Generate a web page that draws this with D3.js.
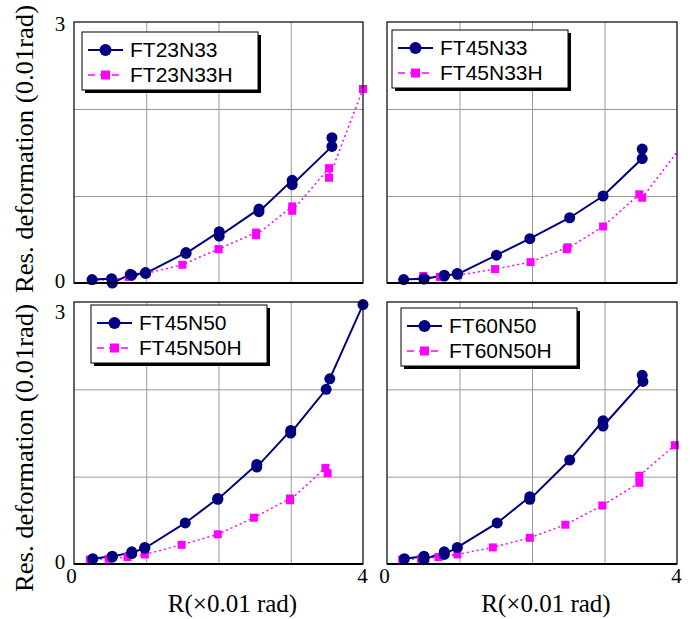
<!DOCTYPE html>
<html>
<head>
<meta charset="utf-8">
<script src="https://cdnjs.cloudflare.com/ajax/libs/d3/7.8.5/d3.min.js"></script>
<style>
  body { margin: 0; background: #fff; }
  svg { display: block; }
</style>
</head>
<body>
<svg width="690" height="619"></svg>
<script>

// ---- data (x = R, y = residual deformation) ----
let ft23n33  = [[0.25,0.04],[0.52,0.05],[0.53,0.0],[0.78,0.10],[0.80,0.09],[0.99,0.12],[0.99,0.11],[1.55,0.35],[1.55,0.34],
                [2.01,0.59],[2.01,0.54],[2.56,0.85],[2.56,0.82],[3.02,1.18],[3.02,1.13],[3.57,1.57],[3.57,1.67]];
let ft23n33h = [[0.25,0.03],[0.52,0.04],[0.76,0.07],[1.0,0.11],[1.5,0.21],[2.0,0.39],[2.52,0.58],[2.52,0.55],
                [3.02,0.88],[3.02,0.83],[3.53,1.32],[3.53,1.21],[4.0,2.23]];

let ft45n33  = [[0.23,0.04],[0.51,0.05],[0.51,0.045],[0.79,0.09],[0.79,0.08],[0.97,0.11],[0.97,0.10],[1.51,0.32],
                [1.97,0.51],[2.52,0.75],[2.98,1.0],[3.52,1.43],[3.52,1.54]];
let ft45n33h = [[0.50,0.08],[0.73,0.07],[0.98,0.09],[1.49,0.16],[1.98,0.24],[2.49,0.41],[2.48,0.39],[2.98,0.65],
                [3.48,1.02],[3.52,0.98],[4.5,2.05]];

let ft45n50  = [[0.26,0.06],[0.53,0.09],[0.53,0.08],[0.80,0.14],[0.80,0.12],[0.98,0.19],[0.98,0.18],[1.54,0.47],
                [1.99,0.75],[1.99,0.74],[2.53,1.14],[2.53,1.11],[3.0,1.53],[3.0,1.50],[3.49,2.0],[3.54,2.12],[4.0,2.97]];
let ft45n50h = [[0.22,0.05],[0.48,0.06],[0.74,0.08],[0.98,0.11],[1.49,0.22],[1.99,0.34],[2.49,0.53],[2.99,0.75],
                [2.99,0.73],[3.48,1.10],[3.51,1.04]];

let ft60n50  = [[0.24,0.06],[0.51,0.09],[0.51,0.05],[0.79,0.14],[0.79,0.11],[0.97,0.19],[1.52,0.47],[1.97,0.77],
                [1.97,0.74],[2.52,1.19],[2.98,1.64],[2.98,1.58],[3.53,2.09],[3.52,2.16]];
let ft60n50h = [[0.21,0.05],[0.47,0.06],[0.71,0.08],[0.97,0.11],[1.46,0.19],[1.97,0.30],[2.46,0.45],[2.97,0.67],
                [3.48,0.93],[3.48,1.01],[3.97,1.36]];

let xTickLabels = [0, 4];
let yTickLabels = [0, 3];
let xGrid = [1, 2, 3];
let yGrid = [1, 2];
let xTitle = 'R(\u00d70.01 rad)';
let yTitle = 'Res. deformation (0.01rad)';

let navy = '#000080';
let pink = '#ff00ff';

let svg = d3.select('svg');

let panels = [
    { name: 'FT23N33', main: ft23n33, hs: ft23n33h, x0: 74,  x1: 363, y0: 22,  y1: 283, leg: [82, 32],  left: true,  bottom: false },
    { name: 'FT45N33', main: ft45n33, hs: ft45n33h, x0: 387, x1: 677, y0: 22,  y1: 283, leg: [392, 30], left: false, bottom: false },
    { name: 'FT45N50', main: ft45n50, hs: ft45n50h, x0: 74,  x1: 363, y0: 302, y1: 564, leg: [91, 305], left: true,  bottom: true },
    { name: 'FT60N50', main: ft60n50, hs: ft60n50h, x0: 387, x1: 677, y0: 302, y1: 564, leg: [401, 308], left: false, bottom: true }
];

panels.forEach((p, i) => {

    let x = d3.scaleLinear().domain([0, 4]).range([p.x0, p.x1]);
    let y = d3.scaleLinear().domain([0, 3]).range([p.y1, p.y0]);

    let g = svg.append('g');

    // grid
    g.append('g')
        .attr('transform', 'translate(0,' + p.y1 + ')')
        .call(d3.axisBottom(x).tickValues(xGrid).tickSize(-(p.y1 - p.y0)).tickFormat(''))
        .call(a => a.select('.domain').remove())
        .selectAll('line').attr('stroke', '#999').attr('stroke-width', 1);

    g.append('g')
        .attr('transform', 'translate(' + p.x0 + ',0)')
        .call(d3.axisLeft(y).tickValues(yGrid).tickSize(-(p.x1 - p.x0)).tickFormat(''))
        .call(a => a.select('.domain').remove())
        .selectAll('line').attr('stroke', '#999').attr('stroke-width', 1);

    // tick labels
    if (p.left) {
        g.append('g')
            .attr('transform', 'translate(60,0)')
            .call(d3.axisLeft(y).tickValues(yTickLabels).tickSize(0).tickPadding(0).tickFormat(d3.format('d')))
            .call(a => a.select('.domain').remove())
            .selectAll('text')
            .attr('text-anchor', 'middle')
            .attr('dy', (d) => d === 3 ? (p.y0 > 100 ? '0.8em' : '0.4em') : '0.2em')
            .style('font-family', '"Liberation Serif", serif')
            .style('font-size', '21px')
            .attr('fill', '#000');
    }
    if (p.bottom) {
        g.append('g')
            .attr('transform', 'translate(0,' + (p.y1 + 4) + ')')
            .call(d3.axisBottom(x).tickValues(xTickLabels).tickSize(0).tickPadding(0).tickFormat(d3.format('d')))
            .call(a => a.select('.domain').remove())
            .selectAll('text')
            .attr('dx', d => d === 0 ? '-3px' : '-1px')
            .style('font-family', '"Liberation Serif", serif')
            .style('font-size', '21px')
            .attr('fill', '#000');

        g.append('text')
            .attr('x', (p.x0 + p.x1) / 2 + 14)
            .attr('y', 612)
            .attr('text-anchor', 'middle')
            .style('font-family', '"Liberation Serif", serif')
            .style('font-size', '25px')
            .text(xTitle);
    }
    if (p.left) {
        g.append('text')
            .attr('transform', 'translate(33,' + (p.bottom ? 448 : 149) + ') rotate(-90)')
            .attr('text-anchor', 'middle')
            .attr('textLength', 288)
            .attr('lengthAdjust', 'spacingAndGlyphs')
            .style('font-family', '"Liberation Serif", serif')
            .style('font-size', '25px')
            .text(yTitle);
    }

    // clip for lines
    let clipId = 'clip' + i;
    svg.append('clipPath').attr('id', clipId)
        .append('rect')
        .attr('x', p.x0).attr('y', p.y0)
        .attr('width', p.x1 - p.x0).attr('height', p.y1 - p.y0);

    let line = d3.line().x(d => x(d[0])).y(d => y(d[1]));

    g.append('path')
        .datum(p.hs)
        .attr('clip-path', 'url(#' + clipId + ')')
        .attr('fill', 'none')
        .attr('stroke', pink)
        .attr('stroke-width', 1.5)
        .attr('stroke-dasharray', '2,3')
        .attr('d', line);

    g.append('path')
        .datum(p.main)
        .attr('clip-path', 'url(#' + clipId + ')')
        .attr('fill', 'none')
        .attr('stroke', navy)
        .attr('stroke-width', 2)
        .attr('d', line);

    g.selectAll('.sq')
        .data(p.hs.filter(d => d[0] <= 4.05))
        .enter().append('rect')
        .attr('class', 'sq')
        .attr('x', d => x(d[0]) - 4)
        .attr('y', d => y(d[1]) - 4)
        .attr('width', 8).attr('height', 8)
        .attr('fill', pink);

    g.selectAll('.dot')
        .data(p.main)
        .enter().append('circle')
        .attr('class', 'dot')
        .attr('cx', d => x(d[0]))
        .attr('cy', d => y(d[1]))
        .attr('r', 5.5)
        .attr('fill', navy);

    // frame
    g.append('rect')
        .attr('x', p.x0).attr('y', p.y0)
        .attr('width', p.x1 - p.x0).attr('height', p.y1 - p.y0)
        .attr('fill', 'none')
        .attr('stroke', '#000')
        .attr('stroke-width', 1.2);
    g.append('line')
        .attr('x1', p.x0).attr('x2', p.x1)
        .attr('y1', p.y1).attr('y2', p.y1)
        .attr('stroke', '#000').attr('stroke-width', 2);

    // legend
    let lx = p.leg[0], ly = p.leg[1];
    let legend = g.append('g').attr('transform', 'translate(' + lx + ',' + ly + ')');
    legend.append('rect')
        .attr('x', 3).attr('y', 3).attr('width', 176).attr('height', 58)
        .attr('fill', '#000');
    legend.append('rect')
        .attr('x', 0).attr('y', 0).attr('width', 176).attr('height', 58)
        .attr('fill', '#fff').attr('stroke', '#000').attr('stroke-width', 1);

    let rows = [
        { label: p.name, color: navy, dash: null, circle: true },
        { label: p.name + 'H', color: pink, dash: '7,5', circle: false }
    ];
    rows.forEach((r, k) => {
        let cy = 18 + k * 25;
        legend.append('line')
            .attr('x1', 6).attr('x2', 41)
            .attr('y1', cy).attr('y2', cy)
            .attr('stroke', r.color)
            .attr('stroke-width', r.circle ? 2 : 1.5)
            .attr('stroke-dasharray', r.dash);
        if (r.circle) {
            legend.append('circle').attr('cx', 23.5).attr('cy', cy).attr('r', 6).attr('fill', r.color);
        } else {
            legend.append('rect').attr('x', 19).attr('y', cy - 4.5).attr('width', 9).attr('height', 9).attr('fill', r.color);
        }
        legend.append('text')
            .attr('x', 48).attr('y', cy + 7)
            .style('font-family', '"Liberation Sans", Arial, sans-serif')
            .style('font-size', '21px')
            .attr('fill', '#000')
            .text(r.label);
    });
});

</script>
</body>
</html>
